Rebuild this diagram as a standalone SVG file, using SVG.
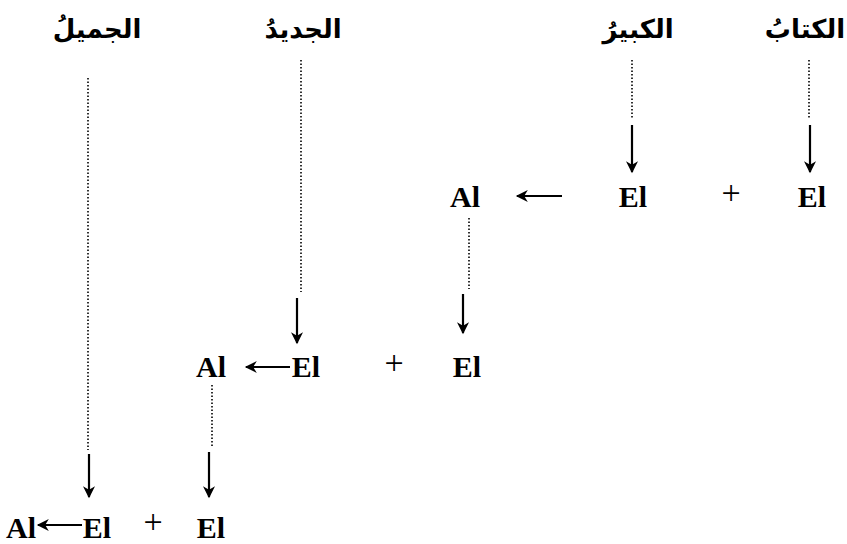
<svg xmlns="http://www.w3.org/2000/svg" width="847" height="544" viewBox="0 0 847 544">
<defs>
<style>
.ar{font-family:'DejaVu Sans',sans-serif;font-size:26px;font-weight:bold;fill:#000;text-anchor:middle}
.lt{font-family:'Liberation Serif','Times New Roman',serif;font-size:30px;font-weight:bold;fill:#000;text-anchor:middle}
.pl{font-family:'Liberation Serif','Times New Roman',serif;font-size:34px;font-weight:normal;fill:#000;text-anchor:middle}
.dot{stroke:#000;stroke-width:1.6;stroke-dasharray:1.5 2;fill:none}
.arr{stroke:#000;stroke-width:2.2;fill:none;marker-end:url(#ah)}
</style>
<marker id="ah" viewBox="0 0 10 10" refX="9" refY="5" markerWidth="15" markerHeight="12" markerUnits="userSpaceOnUse" orient="auto">
<path d="M0,0 L10,5 L0,10 L3,5 z" fill="#000"/>
</marker>
</defs>
<rect width="847" height="544" fill="#fff"/>
<g id="w-kitab"><text class="ar" x="805" y="38">الكتابُ</text></g>
<g id="w-kabir"><text class="ar" x="638" y="38">الكبيرُ</text></g>
<g id="w-jadid"><text class="ar" x="303" y="38">الجديدُ</text></g>
<g id="w-jamil"><text class="ar" x="97" y="38">الجميلُ</text></g>
<g id="r1-al"><text class="lt" x="465" y="207">Al</text></g>
<g id="r1-el1"><text class="lt" x="633" y="207">El</text></g>
<g id="r1-plus"><text class="pl" x="731" y="204">+</text></g>
<g id="r1-el2"><text class="lt" x="812" y="207">El</text></g>
<g id="r2-al"><text class="lt" x="211" y="377">Al</text></g>
<g id="r2-el1"><text class="lt" x="306" y="377">El</text></g>
<g id="r2-plus"><text class="pl" x="394" y="374">+</text></g>
<g id="r2-el2"><text class="lt" x="467" y="377">El</text></g>
<g id="r3-al"><text class="lt" x="21" y="538">Al</text></g>
<g id="r3-el1"><text class="lt" x="97" y="538">El</text></g>
<g id="r3-plus"><text class="pl" x="153" y="533">+</text></g>
<g id="r3-el2"><text class="lt" x="211" y="538">El</text></g>
<g id="connectors">
<line class="dot" x1="809" y1="60" x2="809" y2="119"/>
<line class="arr" x1="810" y1="125" x2="810" y2="172"/>
<line class="dot" x1="632" y1="60" x2="632" y2="119"/>
<line class="arr" x1="632" y1="125" x2="632" y2="172"/>
<line class="arr" x1="562" y1="196" x2="517" y2="196"/>
<line class="dot" x1="469" y1="218" x2="469" y2="289"/>
<line class="arr" x1="463" y1="294" x2="463" y2="333"/>
<line class="dot" x1="301" y1="60" x2="301" y2="292"/>
<line class="arr" x1="297" y1="298" x2="297" y2="343"/>
<line class="arr" x1="290" y1="367" x2="246" y2="367"/>
<line class="dot" x1="212" y1="385" x2="212" y2="448"/>
<line class="arr" x1="209" y1="452" x2="209" y2="497"/>
<line class="dot" x1="88" y1="78" x2="88" y2="450"/>
<line class="arr" x1="89" y1="454" x2="89" y2="497"/>
<line class="arr" x1="82" y1="525" x2="38" y2="525"/>
</g>
</svg>
